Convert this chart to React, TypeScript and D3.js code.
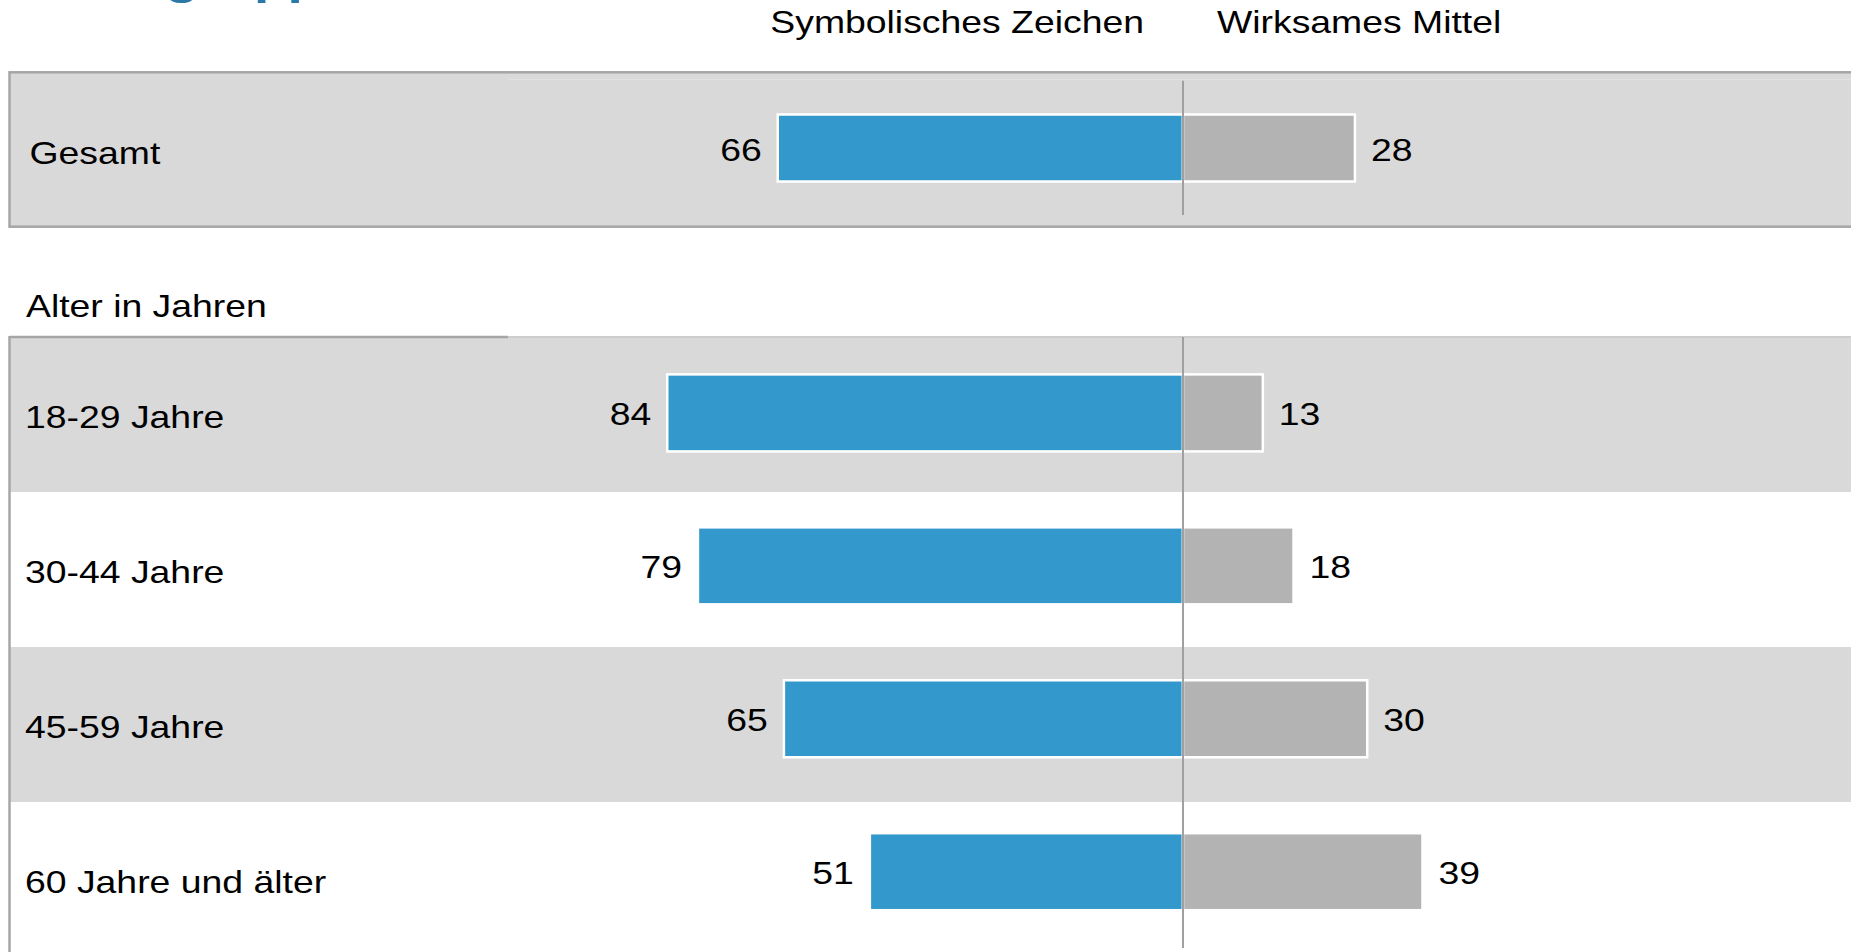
import React from "react";
import * as d3 from "d3";

// ---- data ----
const seriesNames = ["Symbolisches Zeichen", "Wirksames Mittel"];
const totalLabel = "Gesamt";
const totalSymbolisch = 66;
const totalWirksam = 28;
const sectionLabel = "Alter in Jahren";
const categories = ["18-29 Jahre", "30-44 Jahre", "45-59 Jahre", "60 Jahre und älter"];
const symbolisch = [84, 79, 65, 51];
const wirksam = [13, 18, 30, 39];
const titleText = "Altersgruppen";

const W = 1851;
const H = 952;
const CX = 1183;
const SX = 1.225; // horizontal text stretch seen in reference
const FONT = "'Liberation Sans', Arial, Helvetica, sans-serif";
const FS = 30.5;
const BLUE = "#3398cb";
const GRAYBAR = "#b3b3b3";
const BG = "#d9d9d9";
const BORDER = "#a6a6a6";
const AXIS = "#a0a0a0";

function T({ x, y, children, anchor = "start", size = FS, weight = "normal", fill = "#000" }: any) {
  return (
    <text
      transform={`translate(${x},${y}) scale(${SX},1)`}
      textAnchor={anchor}
      fontFamily={FONT}
      fontSize={size}
      fontWeight={weight}
      fill={fill}
    >
      {children}
    </text>
  );
}

export default function App() {
  const x = d3.scaleLinear().domain([0, 100]).range([0, 614]);

  const rowBand = d3.scaleBand<string>().domain(categories).range([337, 337 + 155 * categories.length]).paddingInner(0);
  const barY = d3.scaleLinear().domain([0, categories.length - 1]).range([412.9, 871.7]);

  const gTop = 72.3;
  const gBottom = 226.7;
  const gCenterBar = 148;
  const gBarH = 67;
  const rowBarH = 77;
  const sw = 2.5;

  return (
    <div style={{ position: "fixed", left: 0, top: 0 }}>
      <svg width={W} height={H} style={{ display: "block", background: "#fff" }}>
        {/* cut-off title (only its descenders are visible in the reference) */}
        <T x={9} y={-6} size={45} weight="bold" fill="#2a78a8">{titleText}</T>

        {/* series headers */}
        <T x={CX - 39} y={32.5} anchor="end">{seriesNames[0]}</T>
        <T x={CX + 34} y={32.5} anchor="start">{seriesNames[1]}</T>

        {/* Gesamt box */}
        <rect x={9.5} y={gTop} width={W} height={gBottom - gTop} fill={BG} stroke={BORDER} strokeWidth={sw} />
        <line x1={509} x2={W} y1={79.5} y2={79.5} stroke="#e1e1e1" strokeWidth={1} />
        <T x={29.5} y={164}>{totalLabel}</T>
        <rect x={CX - x(totalSymbolisch)} y={gCenterBar - gBarH / 2} width={x(totalSymbolisch)} height={gBarH}
          fill={BLUE} stroke="#fff" strokeWidth={sw} />
        <rect x={CX} y={gCenterBar - gBarH / 2} width={x(totalWirksam)} height={gBarH}
          fill={GRAYBAR} stroke="#fff" strokeWidth={sw} />
        <T x={CX - x(totalSymbolisch) - 16} y={gCenterBar + 12.5} anchor="end">{totalSymbolisch}</T>
        <T x={CX + x(totalWirksam) + 16} y={gCenterBar + 12.5} anchor="start">{totalWirksam}</T>
        <line x1={CX} x2={CX} y1={80.7} y2={215} stroke={AXIS} strokeWidth={2} />

        {/* section label */}
        <T x={26} y={316.7}>{sectionLabel}</T>

        {/* row backgrounds */}
        {categories.map((c, i) => (
          <rect key={"bg" + c} x={9.5} y={rowBand(c)!} width={W} height={rowBand.bandwidth()}
            fill={i % 2 === 0 ? BG : "#fff"} />
        ))}
        <line x1={9.5} x2={508} y1={337} y2={337} stroke={BORDER} strokeWidth={sw} />
        <line x1={508} x2={W} y1={337} y2={337} stroke="#cdcdcd" strokeWidth={2} />
        <line x1={9.5} x2={9.5} y1={336} y2={H} stroke={BORDER} strokeWidth={sw} />

        {/* row labels, bars, values */}
        {categories.map((c, i) => {
          const yc = barY(i);
          const rowMid = rowBand(c)! + rowBand.bandwidth() / 2;
          return (
            <g key={c}>
              <T x={25} y={rowMid + 13.5}>{c}</T>
              <rect x={CX - x(symbolisch[i])} y={yc - rowBarH / 2} width={x(symbolisch[i])} height={rowBarH}
                fill={BLUE} stroke="#fff" strokeWidth={sw} />
              <rect x={CX} y={yc - rowBarH / 2} width={x(wirksam[i])} height={rowBarH}
                fill={GRAYBAR} stroke="#fff" strokeWidth={sw} />
              <T x={CX - x(symbolisch[i]) - 16} y={yc + 12} anchor="end">{symbolisch[i]}</T>
              <T x={CX + x(wirksam[i]) + 16} y={yc + 12} anchor="start">{wirksam[i]}</T>
            </g>
          );
        })}
        <line x1={CX} x2={CX} y1={337} y2={948} stroke={AXIS} strokeWidth={2} />
      </svg>
    </div>
  );
}
